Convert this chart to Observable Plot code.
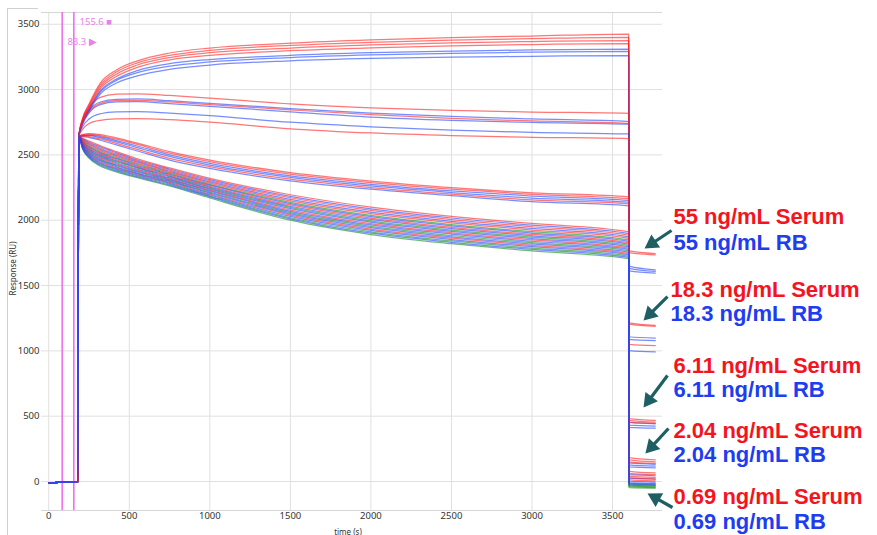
<!DOCTYPE html>
<html><head><meta charset="utf-8">
<script src="https://cdn.jsdelivr.net/npm/d3@7"></script>
<script src="https://cdn.jsdelivr.net/npm/@observablehq/plot@0.6"></script>
<style>
html,body{margin:0;padding:0;background:#fff;}
#wrap{position:relative;width:877px;height:535px;overflow:hidden;}
#frame{position:absolute;left:7px;top:8px;width:30px;height:600px;border-left:1px solid #d0d0d0;border-top:1px solid #d0d0d0;pointer-events:none;}
</style></head><body><div id="wrap"><div id="chart"></div><div id="frame"></div></div>
<script>
// ---------- axes ----------
const xDomain = [-45, 3810];
const yDomain = [-222, 3590];
const xTicks = [0, 500, 1000, 1500, 2000, 2500, 3000, 3500];
const yTicks = [0, 500, 1000, 1500, 2000, 2500, 3000, 3500];

// ---------- time grids (s) ----------
const baseT = [0, 60, 120, 180];
const baseV = [-12, -6, -4, -2];
const assocT = [186, 210, 250, 320, 420, 550, 750, 1000, 1500, 2000, 2500, 3000, 3600];
const dissT = [3603, 3765];

// ---------- red (Serum) sensorgrams, association values (RU) ----------
const redCurves = [
  [2640,2780,2890,3050,3150,3220,3280,3318,3355,3380,3398,3410,3425],
  [2640,2775,2880,3035,3135,3205,3262,3300,3338,3362,3378,3390,3400],
  [2640,2770,2870,3020,3118,3188,3245,3282,3318,3342,3358,3368,3375],
  [2640,2760,2860,3005,3100,3170,3228,3262,3298,3320,3335,3345,3352],
  [2640,2760,2860,2940,2965,2968,2955,2935,2890,2860,2840,2828,2818],
  [2640,2740,2830,2895,2915,2918,2905,2885,2845,2808,2780,2760,2740],
  [2640,2695,2740,2765,2775,2778,2770,2750,2700,2668,2648,2635,2625],
  [2640,2655,2662,2655,2630,2590,2525,2460,2365,2300,2250,2210,2178],
  [2640,2652,2657,2648,2620,2580,2513,2448,2353,2288,2238,2198,2165],
  [2640,2644,2640,2622,2588,2542,2474,2410,2315,2250,2200,2155,2125],
  [2640,2628,2605,2570,2525,2470,2400,2320,2195,2100,2030,1975,1910],
  [2640,2618,2589,2551,2506,2453,2383,2302,2172,2075,2005,1950,1885],
  [2640,2608,2574,2533,2488,2435,2367,2284,2148,2050,1980,1925,1861],
  [2640,2595,2553,2508,2463,2412,2345,2260,2117,2016,1946,1891,1828],
  [2640,2578,2527,2477,2432,2383,2317,2230,2078,1974,1904,1849,1787],
  [2640,2562,2501,2446,2401,2354,2290,2200,2039,1932,1862,1807,1746]
];
const redDiss = [
  [1765,1745],[1752,1735],[1215,1196],[1205,1188],[1050,1040],[482,468],[468,455],[455,445],
  [182,165],[165,150],[150,138],[78,66],[62,52],[42,32],[30,20],[15,5]
];

// ---------- green sensorgrams ----------
const greenCurves = [
  [2640,2603,2566,2523,2479,2427,2359,2275,2137,2037,1967,1912,1849],
  [2640,2587,2540,2493,2448,2398,2331,2245,2098,1995,1925,1870,1808],
  [2640,2570,2514,2462,2417,2369,2303,2215,2058,1953,1883,1828,1767],
  [2640,2553,2488,2431,2386,2340,2276,2185,2019,1911,1841,1786,1726],
  [2640,2545,2475,2415,2370,2325,2262,2170,2000,1890,1820,1765,1705]
];
const greenDiss = [[-18,-26],[-28,-34],[-34,-40],[-40,-46],[-46,-50]];

// ---------- blue (RB) sensorgrams ----------
const blueCurves = [
  [2640,2755,2850,2990,3080,3145,3198,3230,3262,3282,3295,3303,3310],
  [2640,2750,2845,2980,3070,3130,3180,3212,3245,3265,3278,3286,3292],
  [2640,2745,2835,2965,3050,3105,3155,3188,3220,3238,3248,3255,3260],
  [2640,2745,2840,2905,2925,2928,2915,2895,2855,2820,2795,2775,2755],
  [2640,2735,2820,2885,2905,2908,2893,2872,2830,2790,2765,2748,2735],
  [2640,2715,2775,2815,2830,2832,2820,2800,2750,2715,2690,2672,2660],
  [2640,2650,2652,2640,2610,2568,2500,2435,2340,2275,2225,2185,2152],
  [2640,2647,2647,2632,2600,2556,2488,2422,2328,2262,2212,2170,2138],
  [2640,2640,2633,2612,2576,2530,2460,2396,2302,2238,2188,2142,2110],
  [2640,2623,2597,2561,2516,2461,2392,2311,2183,2087,2017,1962,1898],
  [2640,2613,2582,2542,2497,2444,2375,2293,2160,2062,1992,1937,1873],
  [2640,2599,2560,2516,2471,2419,2352,2268,2127,2027,1957,1902,1838],
  [2640,2591,2547,2500,2455,2405,2338,2253,2107,2006,1936,1881,1818],
  [2640,2582,2534,2485,2440,2390,2324,2238,2088,1985,1915,1860,1797],
  [2640,2574,2521,2469,2424,2376,2310,2223,2068,1964,1894,1839,1777],
  [2640,2566,2508,2454,2409,2361,2297,2208,2049,1943,1873,1818,1756],
  [2640,2557,2495,2438,2393,2347,2283,2193,2029,1922,1852,1797,1736],
  [2640,2549,2482,2423,2378,2332,2269,2178,2010,1901,1831,1776,1715]
];
const blueDiss = [
  [1648,1620],[1632,1608],[1612,1595],[1108,1098],[1088,1078],[1002,992],[452,442],[432,424],[415,408],
  [142,132],[128,118],[112,104],[52,44],[26,18],[2,-4],[-14,-20],[-24,-28],[-8,-14]
];

// ---------- injection markers ----------
const markerT = [83.3, 155.6];
const markerLabels = ["155.6 \u25A0", "83.3 \u25B6"];
const markerLabelX = [191, 116];
const markerLabelY = [3521, 3368];

// ---------- annotations ----------
const annoText = ["55 ng/mL Serum","55 ng/mL RB","18.3 ng/mL Serum","18.3 ng/mL RB","6.11 ng/mL Serum","6.11 ng/mL RB","2.04 ng/mL Serum","2.04 ng/mL RB","0.69 ng/mL Serum","0.69 ng/mL RB"];
const annoX = [3878, 3878, 3860, 3860, 3878, 3878, 3878, 3878, 3878, 3878];
const annoY = [2028, 1829, 1470, 1286, 888, 704, 390, 207, -122, -306];
const annoColor = ["#f5141e","#1e3cf0","#f5141e","#1e3cf0","#f5141e","#1e3cf0","#f5141e","#1e3cf0","#f5141e","#1e3cf0"];
const arrowX1 = [3866, 3841, 3841, 3847, 3872];
const arrowY1 = [1921, 1416, 811, 406, -199];
const arrowX2 = [3745, 3732, 3726, 3742, 3766];
const arrowY2 = [1822, 1281, 622, 265, -126];
const arrowRot = [236, 225, 217, 223, 299];

// ---------- build one interleaved table ----------
const groups = [
  {curves: redCurves, diss: redDiss, color: "#ff2222", p: "r"},
  {curves: greenCurves, diss: greenDiss, color: "#16901c", p: "g"},
  {curves: blueCurves, diss: blueDiss, color: "#2447ff", p: "b"}
];
const rows = [];
const nMax = Math.max(...groups.map(g => g.curves.length));
for (let i = 0; i < nMax; i++) {
  for (const g of groups) {
    if (i >= g.curves.length) continue;
    const id = g.p + i, color = g.color, vals = g.curves[i], d = g.diss[i];
    baseT.forEach((t, j) => rows.push({id, color, t, v: baseV[j]}));
    assocT.forEach((t, j) => rows.push({id, color, t, v: vals[j]}));
    dissT.forEach((t, j) => rows.push({id, color, t, v: d[j]}));
  }
}
const annos = annoText.map((s, i) => ({s, x: annoX[i], y: annoY[i], c: annoColor[i]}));
const arrows = arrowX1.map((x1, i) => ({x1, y1: arrowY1[i], x2: arrowX2[i], y2: arrowY2[i], r: arrowRot[i]}));
const mlabels = markerLabels.map((s, i) => ({s, x: markerLabelX[i], y: markerLabelY[i]}));

const chart = Plot.plot({
  width: 877, height: 535,
  marginLeft: 41, marginRight: 215, marginTop: 12, marginBottom: 25,
  x: {domain: xDomain},
  y: {domain: yDomain},
  color: {type: "identity"},
  style: {fontFamily: "'Noto Sans', sans-serif", fontSize: "9.5px", color: "#333", background: "transparent", overflow: "visible"},
  marks: [
    Plot.gridX(xTicks, {stroke: "#e0e0e0", strokeOpacity: 1}),
    Plot.gridY(yTicks, {stroke: "#e0e0e0", strokeOpacity: 1}),
    Plot.ruleY(yDomain, {stroke: "#d6d6d6"}),
    Plot.axisX(xTicks, {tickSize: 0, tickPadding: 2, label: null, tickFormat: d => String(d)}),
    Plot.axisY(yTicks, {tickSize: 0, tickPadding: 2, label: null, tickFormat: d => String(d)}),
    Plot.text(["time (s)"], {text: d => d, frameAnchor: "bottom", textAnchor: "middle", lineAnchor: "bottom", dx: -4, dy: 24, fontSize: 8, fill: "#333"}),
    Plot.text(["Response (RU)"], {text: d => d, frameAnchor: "left", textAnchor: "middle", lineAnchor: "middle", rotate: -90, dx: -28, dy: 7, fontSize: 8, fill: "#333"}),
    Plot.ruleX(markerT, {stroke: "#f26ef2", strokeWidth: 1.6}),
    Plot.text(mlabels, {x: "x", y: "y", text: "s", textAnchor: "start", fill: "#e882e8", fontSize: 9.5}),
    Plot.line(rows, {x: "t", y: "v", z: "id", stroke: "color", strokeWidth: 1.25, strokeOpacity: 0.62, curve: "monotone-x"}),
    Plot.link(arrows, {x1: "x1", y1: "y1", x2: "x2", y2: "y2", stroke: "#1d5f63", strokeWidth: 3.2}),
    Plot.dot(arrows, {x: "x2", y: "y2", symbol: "triangle", r: 5.8, fill: "#1d5f63", stroke: "none", rotate: "r"}),
    Plot.text(annos, {x: "x", y: "y", text: "s", fill: "c", textAnchor: "start", fontSize: 22, fontWeight: "bold", fontFamily: "'Liberation Sans', Arial, sans-serif"})
  ]
});
document.getElementById("chart").appendChild(chart);
</script></body></html>
